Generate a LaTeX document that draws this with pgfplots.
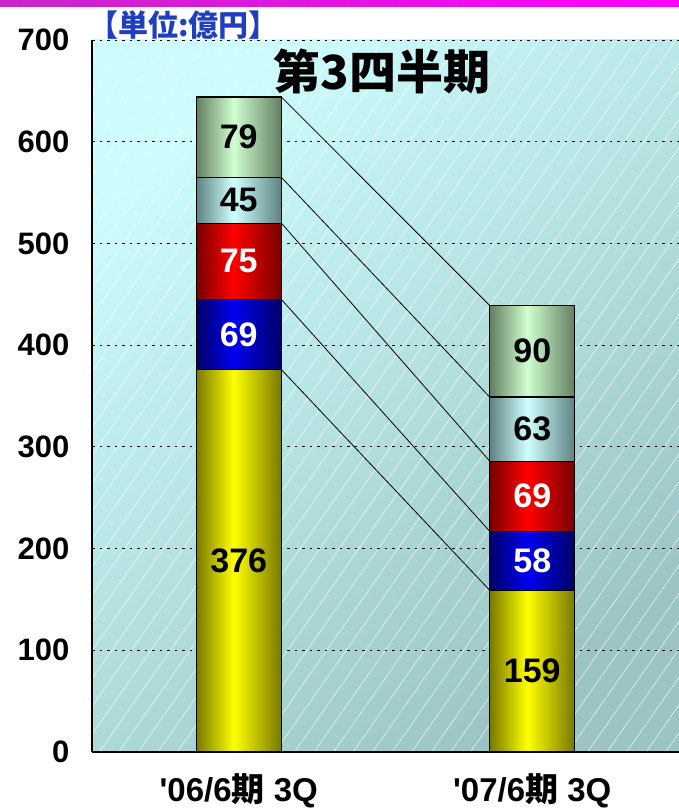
\documentclass[border=0pt]{standalone}
\usepackage{fontspec}
\setmainfont{Liberation Sans}
\newfontfamily\cjk{Noto Sans CJK JP}
\usepackage{pgfplots}
\pgfplotsset{compat=1.18}
\usetikzlibrary{patterns.meta}
\definecolor{gE}{HTML}{627E62}\definecolor{gC}{HTML}{D0FFD0}
\definecolor{cE}{HTML}{5E8282}\definecolor{cC}{HTML}{D0FFFF}
\definecolor{rE}{HTML}{780000}\definecolor{rC}{HTML}{FF0000}
\definecolor{bE}{HTML}{000068}\definecolor{bC}{HTML}{0000F0}
\definecolor{yE}{HTML}{787800}\definecolor{yC}{HTML}{FFFF00}
\definecolor{bgA}{HTML}{CCFCFC}\definecolor{bgB}{HTML}{9CC4C4}
\definecolor{unitblue}{HTML}{1F3FBF}
\pgfdeclarehorizontalshading{gsh}{100bp}{color(0bp)=(gE); color(25bp)=(gE); color(47bp)=(gC); color(75bp)=(gE); color(100bp)=(gE)}
\pgfdeclarehorizontalshading{csh}{100bp}{color(0bp)=(cE); color(25bp)=(cE); color(47bp)=(cC); color(75bp)=(cE); color(100bp)=(cE)}
\pgfdeclarehorizontalshading{rsh}{100bp}{color(0bp)=(rE); color(25bp)=(rE); color(47bp)=(rC); color(75bp)=(rE); color(100bp)=(rE)}
\pgfdeclarehorizontalshading{bsh}{100bp}{color(0bp)=(bE); color(25bp)=(bE); color(47bp)=(bC); color(75bp)=(bE); color(100bp)=(bE)}
\pgfdeclarehorizontalshading{ysh}{100bp}{color(0bp)=(yE); color(25bp)=(yE); color(47bp)=(yC); color(75bp)=(yE); color(100bp)=(yE)}
\pgfplotsset{mybar/.style={ybar, bar width=0.29, bar shift=0pt, draw=black, line width=1.1pt, shade, shading=#1}}
\begin{document}
\begin{tikzpicture}
\begin{axis}[
  width=587pt, height=712pt, scale only axis,
  xmin=-0.5, xmax=1.5, ymin=0, ymax=700,
  axis x line*=bottom, axis y line*=left,
  axis line style={-, black, line width=1.2pt},
  axis background/.style={top color=bgA, bottom color=bgB, shading angle=40,
     postaction={pattern={Lines[angle=55,distance=16pt,line width=0.4pt]}, pattern color=white, fill opacity=0.22}},
  ytick={0,100,...,700},
  ymajorgrids, grid style={black, dash pattern=on 2.5pt off 5pt, line width=0.9pt},
  ytick style={draw=none},
  xtick={0,1}, xticklabels={{\textquotesingle06/6{\cjk\bfseries 期} 3Q},{\textquotesingle07/6{\cjk\bfseries 期} 3Q}},
  xtick style={draw=none},
  extra x ticks={0.5}, extra x tick labels={},
  extra x tick style={grid=none, major tick length=10pt, tick style={draw=black, line width=0.8pt}},
  tick align=inside,
  /pgf/number format/assume math mode=true,
  yticklabel style={xshift=-19pt, font=\bfseries\fontsize{31}{31}\selectfont},
  xticklabel style={yshift=-18pt, font=\bfseries\fontsize{33}{33}\selectfont},
  clip=false,
]
% '06/6 3Q: cumulative tops 644, 565, 520, 445, 376
\addplot[mybar=gsh] coordinates {(0,644)};
\addplot[mybar=csh] coordinates {(0,565)};
\addplot[mybar=rsh] coordinates {(0,520)};
\addplot[mybar=bsh] coordinates {(0,445)};
\addplot[mybar=ysh] coordinates {(0,376)};
% '07/6 3Q: cumulative tops 439, 349, 286, 217, 159
\addplot[mybar=gsh] coordinates {(1,439)};
\addplot[mybar=csh] coordinates {(1,349)};
\addplot[mybar=rsh] coordinates {(1,286)};
\addplot[mybar=bsh] coordinates {(1,217)};
\addplot[mybar=ysh] coordinates {(1,159)};
% connecting lines
\addplot[black, line width=0.8pt, mark=none] coordinates {(0.145,644) (0.855,439)};
\addplot[black, line width=0.8pt, mark=none] coordinates {(0.145,565) (0.855,349)};
\addplot[black, line width=0.8pt, mark=none] coordinates {(0.145,520) (0.855,286)};
\addplot[black, line width=0.8pt, mark=none] coordinates {(0.145,445) (0.855,217)};
\addplot[black, line width=0.8pt, mark=none] coordinates {(0.145,376) (0.855,159)};
% labels
\addplot[only marks, mark=none, point meta=explicit symbolic, nodes near coords,
  nodes near coords style={anchor=center, black, font=\bfseries\fontsize{34}{34}\selectfont}]
  coordinates {(0,188)[376] (0,542.5)[45] (0,604.5)[79] (1,79.5)[159] (1,317.5)[63] (1,394)[90]};
\addplot[only marks, mark=none, point meta=explicit symbolic, nodes near coords,
  nodes near coords style={anchor=center, white, font=\bfseries\fontsize{34}{34}\selectfont}]
  coordinates {(0,410.5)[69] (0,482.5)[75] (1,188)[58] (1,251.5)[69]};
\node[font=\cjk\bfseries\fontsize{47}{47}\selectfont, anchor=center] at (rel axis cs:0.494,0.956) {第3四半期};
\end{axis}
\fill[left color=black!25!magenta!85!white, right color=magenta] ([xshift=-92pt,yshift=33pt]current axis.north west) rectangle ([yshift=40pt]current axis.north east);
\node[anchor=south west, inner sep=0pt, text=unitblue, font=\cjk\bfseries\fontsize{30}{30}\selectfont] at ([xshift=-4pt,yshift=0pt]current axis.north west) {【単位:億円】};
\pgfresetboundingbox
\path ([xshift=-92pt,yshift=-58pt]current axis.south west) rectangle ([yshift=40pt]current axis.north east);
\end{tikzpicture}
\end{document}
